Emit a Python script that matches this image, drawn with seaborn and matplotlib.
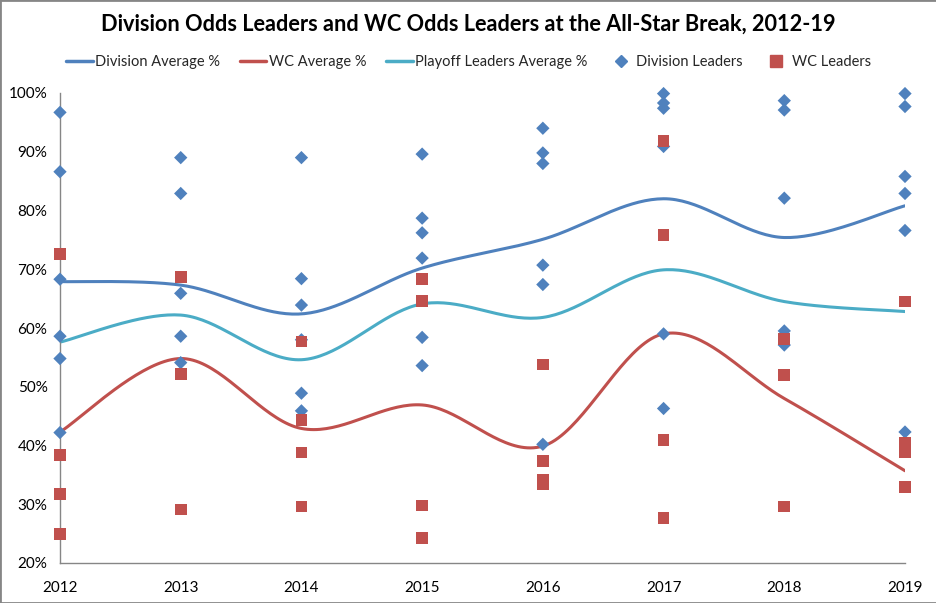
import numpy as np
import pandas as pd
import matplotlib
matplotlib.use('Agg')
import matplotlib.pyplot as plt
import seaborn as sns
from matplotlib.lines import Line2D
from matplotlib.patches import Rectangle
from matplotlib.ticker import PercentFormatter

# Datos
years = [2012, 2013, 2014, 2015, 2016, 2017, 2018, 2019]

div_avg = [67.9, 67.3, 62.4, 70.2, 75.1, 82.0, 75.4, 80.8]
wc_avg = [42.3, 54.8, 42.9, 46.9, 39.9, 59.0, 48.0, 35.7]
playoff_avg = [57.6, 62.2, 54.6, 64.1, 61.8, 69.9, 64.5, 62.8]

div_leaders = [
    [96.7, 86.6, 68.3, 58.6, 54.8, 42.2],
    [89.0, 82.9, 65.9, 58.6, 54.1],
    [89.0, 68.4, 63.9, 58.0, 48.9, 45.9],
    [89.6, 78.7, 76.2, 71.9, 58.4, 53.6],
    [94.0, 89.8, 88.0, 70.7, 67.4, 40.2],
    [99.9, 98.3, 97.4, 90.9, 59.0, 46.3],
    [98.7, 97.1, 82.1, 59.5, 57.1],
    [99.9, 97.7, 85.8, 82.9, 76.6, 42.3],
]
wc_leaders = [
    [72.6, 38.4, 31.7, 24.9],
    [68.7, 52.2, 29.1],
    [57.7, 44.4, 38.8, 29.6],
    [68.4, 64.6, 29.8, 24.3],
    [53.8, 37.3, 34.2, 33.4],
    [91.8, 75.8, 40.9, 27.7],
    [58.1, 52.0, 29.6],
    [64.5, 40.4, 38.9, 33.0],
]

blue = '#4F81BD'
red = '#C0504D'
cyan = '#4BACC6'
gris = '#868686'


def suavizar(x, y, n=40):
    # curva suavizada tipo Excel (Catmull-Rom)
    x = np.asarray(x, float)
    y = np.asarray(y, float)
    px = np.concatenate([[x[0]], x, [x[-1]]])
    py = np.concatenate([[y[0]], y, [y[-1]]])
    xs, ys = [], []
    t = np.linspace(0, 1, n)
    for i in range(1, len(px) - 2):
        p0, p1, p2, p3 = py[i - 1], py[i], py[i + 1], py[i + 2]
        q0, q1, q2, q3 = px[i - 1], px[i], px[i + 1], px[i + 2]
        c1y, c2y = p1 + (p2 - p0) / 6, p2 - (p3 - p1) / 6
        c1x, c2x = q1 + (q2 - q0) / 6, q2 - (q3 - q1) / 6
        b = [(1 - t) ** 3, 3 * (1 - t) ** 2 * t, 3 * (1 - t) * t ** 2, t ** 3]
        xs.append(b[0] * q1 + b[1] * c1x + b[2] * c2x + b[3] * q2)
        ys.append(b[0] * p1 + b[1] * c1y + b[2] * c2y + b[3] * p2)
    return np.concatenate(xs), np.concatenate(ys)


sns.set_style('white')
plt.rcParams['font.family'] = ['Lato', 'DejaVu Sans']

puntos_div = pd.DataFrame({
    'Año': [y for y, vals in zip(years, div_leaders) for _ in vals],
    'Valor': [v for vals in div_leaders for v in vals],
})
puntos_wc = pd.DataFrame({
    'Año': [y for y, vals in zip(years, wc_leaders) for _ in vals],
    'Valor': [v for vals in wc_leaders for v in vals],
})

fig = plt.figure(figsize=(9.37, 6.03), dpi=100)
ax = fig.add_axes([60 / 937, 1 - 563 / 603, 845 / 937, 470 / 603])

for serie, color in [(div_avg, blue), (wc_avg, red), (playoff_avg, cyan)]:
    sx, sy = suavizar(years, serie)
    sns.lineplot(x=sx, y=sy, ax=ax, color=color, linewidth=2.2, sort=False, zorder=2)

sns.scatterplot(data=puntos_div, x='Año', y='Valor', ax=ax, marker='D', s=46,
                color=blue, edgecolor='none', zorder=3, clip_on=False)
sns.scatterplot(data=puntos_wc, x='Año', y='Valor', ax=ax, marker='s', s=72,
                color=red, edgecolor='none', zorder=4, clip_on=False)

ax.set_xlim(2012, 2019)
ax.set_ylim(20, 100)
ax.set_xticks(years)
ax.set_xticklabels([str(y) for y in years])
ax.set_yticks(range(20, 101, 10))
ax.yaxis.set_major_formatter(PercentFormatter(decimals=0))
ax.set_xlabel('')
ax.set_ylabel('')
for lado in ['top', 'right']:
    ax.spines[lado].set_visible(False)
for lado in ['left', 'bottom']:
    ax.spines[lado].set_color(gris)
    ax.spines[lado].set_linewidth(1)
ax.tick_params(axis='both', direction='out', length=5, color=gris, labelsize=11,
               labelcolor='black', width=1)
ax.tick_params(axis='x', pad=8)
ax.tick_params(axis='y', pad=4)

fig.text(0.5, 1 - 24 / 603,
         'Division Odds Leaders and WC Odds Leaders at the All-Star Break, 2012-19',
         ha='center', va='center', fontsize=15.7, fontweight='bold', color='black')

handles = [
    Line2D([], [], color=blue, linewidth=2.5),
    Line2D([], [], color=red, linewidth=2.5),
    Line2D([], [], color=cyan, linewidth=2.5),
    Line2D([], [], color=blue, marker='D', linestyle='none', markersize=6),
    Line2D([], [], color=red, marker='s', linestyle='none', markersize=8),
]
labels = ['Division Average %', 'WC Average %', 'Playoff Leaders Average %',
          'Division Leaders', 'WC Leaders']
fig.legend(handles, labels, loc='center', bbox_to_anchor=(0.5, 1 - 62 / 603), ncol=5,
           frameon=False, fontsize=10.5, handlelength=1.8, handletextpad=0.15,
           columnspacing=1.4)

fig.patches.append(Rectangle((0, 0), 1, 1, transform=fig.transFigure, fill=False,
                             edgecolor=gris, linewidth=2))

plt.savefig('out.png', dpi=100)
